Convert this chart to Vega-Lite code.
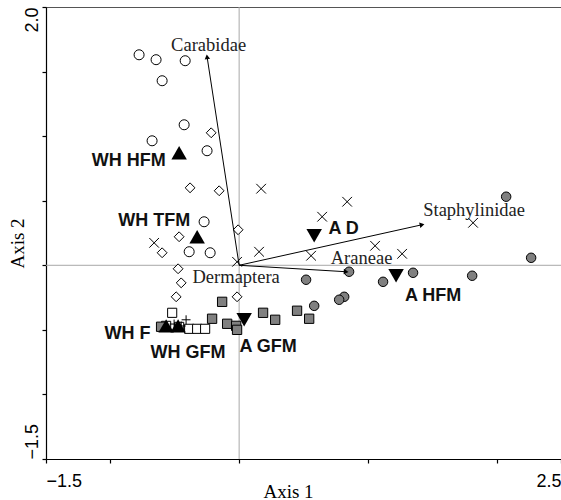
{
  "$schema": "https://vega.github.io/schema/vega-lite/v6.json",
  "width": 515,
  "height": 452,
  "autosize": "none",
  "padding": {"left": 46, "top": 7, "right": 0, "bottom": 41},
  "background": "white",
  "config": {
    "view": {"stroke": "#555555", "strokeWidth": 1},
    "axis": {
      "grid": false,
      "domainColor": "black",
      "domainWidth": 1.2,
      "tickColor": "black",
      "tickWidth": 1.2,
      "tickSize": 4,
      "labelFont": "Liberation Sans",
      "labelFontSize": 18,
      "labelColor": "black",
      "labelOverlap": false,
      "labelBound": false,
      "titleFont": "Liberation Serif",
      "titleFontSize": 19,
      "titleFontWeight": "normal",
      "titleColor": "black"
    }
  },
  "resolve": {"scale": {"shape": "independent", "fill": "independent", "size": "independent"}},
  "datasets": {
    "origin": [{"x": 0, "y": 0}],
    "samples": [
      {"type": "oc", "x": -0.777, "y": 1.630},
      {"type": "oc", "x": -0.645, "y": 1.592},
      {"type": "oc", "x": -0.419, "y": 1.584},
      {"type": "oc", "x": -0.598, "y": 1.429},
      {"type": "oc", "x": -0.427, "y": 1.088},
      {"type": "oc", "x": -0.676, "y": 0.964},
      {"type": "oc", "x": -0.249, "y": 0.887},
      {"type": "oc", "x": -0.272, "y": 0.337},
      {"type": "oc", "x": -0.388, "y": 0.105},
      {"type": "oc", "x": -0.225, "y": 0.097},
      {"type": "od", "x": -0.217, "y": 1.026},
      {"type": "od", "x": -0.381, "y": 0.600},
      {"type": "od", "x": -0.155, "y": 0.577},
      {"type": "od", "x": -0.008, "y": 0.275},
      {"type": "od", "x": -0.466, "y": 0.221},
      {"type": "od", "x": -0.598, "y": 0.097},
      {"type": "od", "x": -0.474, "y": -0.027},
      {"type": "od", "x": -0.450, "y": -0.136},
      {"type": "od", "x": -0.489, "y": -0.244},
      {"type": "od", "x": -0.016, "y": -0.244},
      {"type": "x", "x": 0.171, "y": 0.593},
      {"type": "x", "x": -0.660, "y": 0.174},
      {"type": "x", "x": 0.839, "y": 0.492},
      {"type": "x", "x": 0.645, "y": 0.376},
      {"type": "x", "x": 0.559, "y": 0.074},
      {"type": "x", "x": 1.056, "y": 0.151},
      {"type": "x", "x": 1.266, "y": 0.089},
      {"type": "x", "x": 1.817, "y": 0.329},
      {"type": "x", "x": 0.155, "y": 0.105},
      {"type": "x", "x": -0.016, "y": 0.027},
      {"type": "gc", "x": 2.074, "y": 0.531},
      {"type": "gc", "x": 2.268, "y": 0.058},
      {"type": "gc", "x": 0.854, "y": -0.050},
      {"type": "gc", "x": 0.520, "y": -0.112},
      {"type": "gc", "x": 1.118, "y": -0.128},
      {"type": "gc", "x": 1.351, "y": -0.058},
      {"type": "gc", "x": 1.810, "y": -0.081},
      {"type": "gc", "x": 0.816, "y": -0.244},
      {"type": "gc", "x": 0.777, "y": -0.267},
      {"type": "gc", "x": 0.583, "y": -0.314},
      {"type": "os", "x": -0.520, "y": -0.368},
      {"type": "os", "x": -0.388, "y": -0.492},
      {"type": "os", "x": -0.326, "y": -0.492},
      {"type": "os", "x": -0.264, "y": -0.492},
      {"type": "os", "x": -0.567, "y": -0.469},
      {"type": "os", "x": -0.466, "y": -0.477},
      {"type": "p", "x": -0.412, "y": -0.422},
      {"type": "p", "x": -0.505, "y": -0.455},
      {"type": "p", "x": -0.450, "y": -0.470},
      {"type": "gs", "x": -0.132, "y": -0.283},
      {"type": "gs", "x": -0.210, "y": -0.414},
      {"type": "gs", "x": 0.186, "y": -0.368},
      {"type": "gs", "x": 0.280, "y": -0.422},
      {"type": "gs", "x": 0.450, "y": -0.352},
      {"type": "gs", "x": 0.544, "y": -0.414},
      {"type": "gs", "x": -0.093, "y": -0.453},
      {"type": "gs", "x": -0.023, "y": -0.469},
      {"type": "gs", "x": -0.016, "y": -0.500},
      {"type": "gs", "x": -0.606, "y": -0.476}
    ],
    "centroids": [
      {"name": "WH HFM", "dir": "up", "x": -0.466, "y": 0.871},
      {"name": "WH TFM", "dir": "up", "x": -0.326, "y": 0.221},
      {"name": "WH F", "dir": "up", "x": -0.567, "y": -0.469},
      {"name": "WH GFM", "dir": "up", "x": -0.474, "y": -0.469},
      {"name": "A D", "dir": "down", "x": 0.583, "y": 0.229},
      {"name": "A HFM", "dir": "down", "x": 1.219, "y": -0.081},
      {"name": "A GFM", "dir": "down", "x": 0.039, "y": -0.422}
    ],
    "groupLabels": [
      {"name": "WH HFM", "x": -0.858, "y": 0.765},
      {"name": "WH TFM", "x": -0.660, "y": 0.306},
      {"name": "A D", "x": 0.812, "y": 0.244},
      {"name": "A HFM", "x": 1.507, "y": -0.273},
      {"name": "A GFM", "x": 0.225, "y": -0.675},
      {"name": "WH F", "x": -0.867, "y": -0.572},
      {"name": "WH GFM", "x": -0.398, "y": -0.719}
    ],
    "arrows": [
      {"taxon": "Carabidae", "x0": 0, "y0": 0, "x": -0.249, "y": 1.615},
      {"taxon": "Staphylinidae", "x0": 0, "y0": 0, "x": 1.421, "y": 0.314},
      {"taxon": "Araneae", "x0": 0, "y0": 0, "x": 0.831, "y": -0.050}
    ],
    "taxonLabels": [
      {"taxon": "Carabidae", "x": -0.237, "y": 1.661},
      {"taxon": "Staphylinidae", "x": 1.825, "y": 0.378},
      {"taxon": "Araneae", "x": 0.951, "y": 0.009},
      {"taxon": "Dermaptera", "x": -0.023, "y": -0.138}
    ]
  },
  "layer": [
    {
      "data": {"name": "origin"},
      "mark": {"type": "rule", "color": "#a8a8a8", "strokeWidth": 1},
      "encoding": {
        "x": {"field": "x", "type": "quantitative", "scale": {"domain": [-1.5, 2.5], "nice": false, "zero": false}}
      }
    },
    {
      "data": {"name": "origin"},
      "mark": {"type": "rule", "color": "#a8a8a8", "strokeWidth": 1},
      "encoding": {
        "y": {"field": "y", "type": "quantitative", "scale": {"domain": [-1.5, 2.0], "nice": false, "zero": false}}
      }
    },
    {
      "data": {"name": "samples"},
      "mark": {"type": "point", "filled": true, "stroke": "black", "strokeWidth": 1, "opacity": 1},
      "encoding": {
        "x": {
          "field": "x", "type": "quantitative",
          "scale": {"domain": [-1.5, 2.5], "nice": false, "zero": false},
          "axis": {
            "title": "Axis 1",
            "values": [-1.5, -1, 0, 1, 2, 2.5],
            "labelExpr": "datum.value == -1.5 || datum.value == 2.5 ? format(datum.value, '.1f') : ''",
            "labelFlush": true,
            "labelPadding": 9,
            "titleX": 242,
            "titleY": 38,
            "titleAlign": "center",
            "titleBaseline": "alphabetic"
          }
        },
        "y": {
          "field": "y", "type": "quantitative",
          "scale": {"domain": [-1.5, 2.0], "nice": false, "zero": false},
          "axis": {
            "title": "Axis 2",
            "values": [-1.5, -1, -0.5, 0, 0.5, 1, 1.5, 2],
            "labelExpr": "datum.value == -1.5 || datum.value == 2 ? format(datum.value, '.1f') : ''",
            "labelAngle": -90,
            "labelAlign": {"condition": {"test": "datum.value > 0", "value": "right"}, "value": "left"},
            "labelBaseline": "alphabetic",
            "labelPadding": 5,
            "titleX": -23,
            "titleY": 236,
            "titleAngle": -90,
            "titleAlign": "center",
            "titleBaseline": "alphabetic"
          }
        },
        "shape": {
          "field": "type", "type": "nominal", "legend": null,
          "scale": {
            "domain": ["oc", "od", "x", "gc", "gs", "os", "p"],
            "range": ["circle", "diamond", "M-1,-1L1,1M-1,1L1,-1", "circle", "square", "square", "M-1,0L1,0M0,-1L0,1"]
          }
        },
        "fill": {
          "field": "type", "type": "nominal", "legend": null,
          "scale": {
            "domain": ["oc", "od", "x", "gc", "gs", "os", "p"],
            "range": ["white", "white", "none", "#808080", "#808080", "white", "none"]
          }
        },
        "size": {
          "field": "type", "type": "ordinal", "legend": null,
          "scale": {
            "domain": ["oc", "od", "x", "gc", "gs", "os", "p"],
            "range": [100, 80, 110, 100, 85, 85, 70]
          }
        }
      }
    },
    {
      "data": {"name": "arrows"},
      "mark": {"type": "rule", "color": "black", "strokeWidth": 1},
      "encoding": {
        "x": {"field": "x0", "type": "quantitative", "scale": {"domain": [-1.5, 2.5], "nice": false, "zero": false}},
        "y": {"field": "y0", "type": "quantitative", "scale": {"domain": [-1.5, 2.0], "nice": false, "zero": false}},
        "x2": {"field": "x"},
        "y2": {"field": "y"}
      }
    },
    {
      "data": {"name": "arrows"},
      "mark": {"type": "point", "shape": "triangle-up", "filled": true, "color": "black", "opacity": 1, "size": 30, "angle": {"expr": "atan2(datum.x, datum.y) * 180 / PI"}},
      "encoding": {
        "x": {"field": "x", "type": "quantitative", "scale": {"domain": [-1.5, 2.5], "nice": false, "zero": false}},
        "y": {"field": "y", "type": "quantitative", "scale": {"domain": [-1.5, 2.0], "nice": false, "zero": false}}
      }
    },
    {
      "data": {"name": "centroids"},
      "mark": {"type": "point", "filled": true, "color": "black", "opacity": 1, "size": 240},
      "encoding": {
        "x": {"field": "x", "type": "quantitative", "scale": {"domain": [-1.5, 2.5], "nice": false, "zero": false}},
        "y": {"field": "y", "type": "quantitative", "scale": {"domain": [-1.5, 2.0], "nice": false, "zero": false}},
        "shape": {
          "field": "dir", "type": "nominal", "legend": null,
          "scale": {"domain": ["up", "down"], "range": ["triangle-up", "triangle-down"]}
        }
      }
    },
    {
      "data": {"name": "groupLabels"},
      "mark": {"type": "text", "font": "Liberation Sans", "fontWeight": "bold", "fontSize": 18, "color": "#111111", "align": "center", "baseline": "alphabetic"},
      "encoding": {
        "x": {"field": "x", "type": "quantitative", "scale": {"domain": [-1.5, 2.5], "nice": false, "zero": false}},
        "y": {"field": "y", "type": "quantitative", "scale": {"domain": [-1.5, 2.0], "nice": false, "zero": false}},
        "text": {"field": "name"}
      }
    },
    {
      "data": {"name": "taxonLabels"},
      "mark": {"type": "text", "font": "Liberation Serif", "fontSize": 18.5, "color": "#222222", "align": "center", "baseline": "alphabetic"},
      "encoding": {
        "x": {"field": "x", "type": "quantitative", "scale": {"domain": [-1.5, 2.5], "nice": false, "zero": false}},
        "y": {"field": "y", "type": "quantitative", "scale": {"domain": [-1.5, 2.0], "nice": false, "zero": false}},
        "text": {"field": "taxon"}
      }
    }
  ]
}
